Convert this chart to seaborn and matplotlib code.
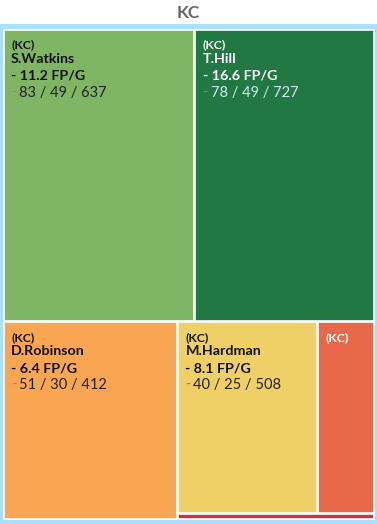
import matplotlib
matplotlib.use('Agg')
import matplotlib.pyplot as plt
from matplotlib.patches import Rectangle
import seaborn as sns

team = 'KC'
names = ['S.Watkins', 'T.Hill', 'D.Robinson', 'M.Hardman', '', '']
fpg = ['11.2', '16.6', '6.4', '8.1', '', '']
stats = ['83 / 49 / 637', '78 / 49 / 727', '51 / 30 / 412', '40 / 25 / 508', '', '']
sizes = [55.0, 51.5, 33.9, 26.6, 10.6, 1.0]
colors = ['#80b663', '#227843', '#f9a652', '#eed066', '#e8694a', '#c8343f']

# nesting of the tiles (alternating stack / side-by-side)
tree = [[0, 1], [2, [[3, 4], 5]]]


def total(node):
    if isinstance(node, int):
        return sizes[node]
    return sum(total(n) for n in node)


def layout(node, x, y, w, h, vertical, out):
    if isinstance(node, int):
        out[node] = (x, y, w, h)
        return
    s = total(node)
    pos = 0.0
    for child in node:
        f = total(child) / s
        if vertical:
            layout(child, x, y + pos * h, w, f * h, not vertical, out)
        else:
            layout(child, x + pos * w, y, f * w, h, not vertical, out)
        pos += f


sns.set_style('white')
plt.rcParams['font.family'] = ['Lato', 'DejaVu Sans']

W, H = 377, 524
fig = plt.figure(figsize=(W / 100, H / 100), dpi=100)
ax = fig.add_axes([0, 0, 1, 1])
ax.set_xlim(0, W)
ax.set_ylim(H, 0)
ax.axis('off')

ax.text(W / 2, 13, team, ha='center', va='center', fontsize=12.5,
        fontweight='bold', color='#666666')
ax.add_patch(Rectangle((0, 24), W, H - 24, color='#aae0f9', lw=0))

rects = {}
layout(tree, 3, 29, 371, 490, True, rects)

for i, (x, y, w, h) in rects.items():
    ax.add_patch(Rectangle((x + 0.5, y + 0.5), w - 1, h - 1, facecolor=colors[i],
                           edgecolor='white', lw=1.2))
    dark = i in (1, 4, 5)
    tc = 'white' if dark else '#111111'
    if h < 20:
        continue
    tx, ty = x + 8, y + 16
    ax.text(tx, ty, f'({team})', fontsize=8.8, fontweight='bold', color=tc, va='center')
    if names[i]:
        ax.text(tx, ty + 14, names[i], fontsize=10.3, fontweight='bold', color=tc, va='center')
        ax.text(tx, ty + 31, f'- {fpg[i]} FP/G', fontsize=10.3, fontweight='bold', color=tc,
                va='center')
        ax.text(tx, ty + 48, '-', fontsize=10.5, color='#888888', va='center')
        ax.text(tx + 8, ty + 48, stats[i], fontsize=10.5,
                color='#cdeef0' if dark else '#222222', va='center')

fig.savefig('out.png', dpi=100)
